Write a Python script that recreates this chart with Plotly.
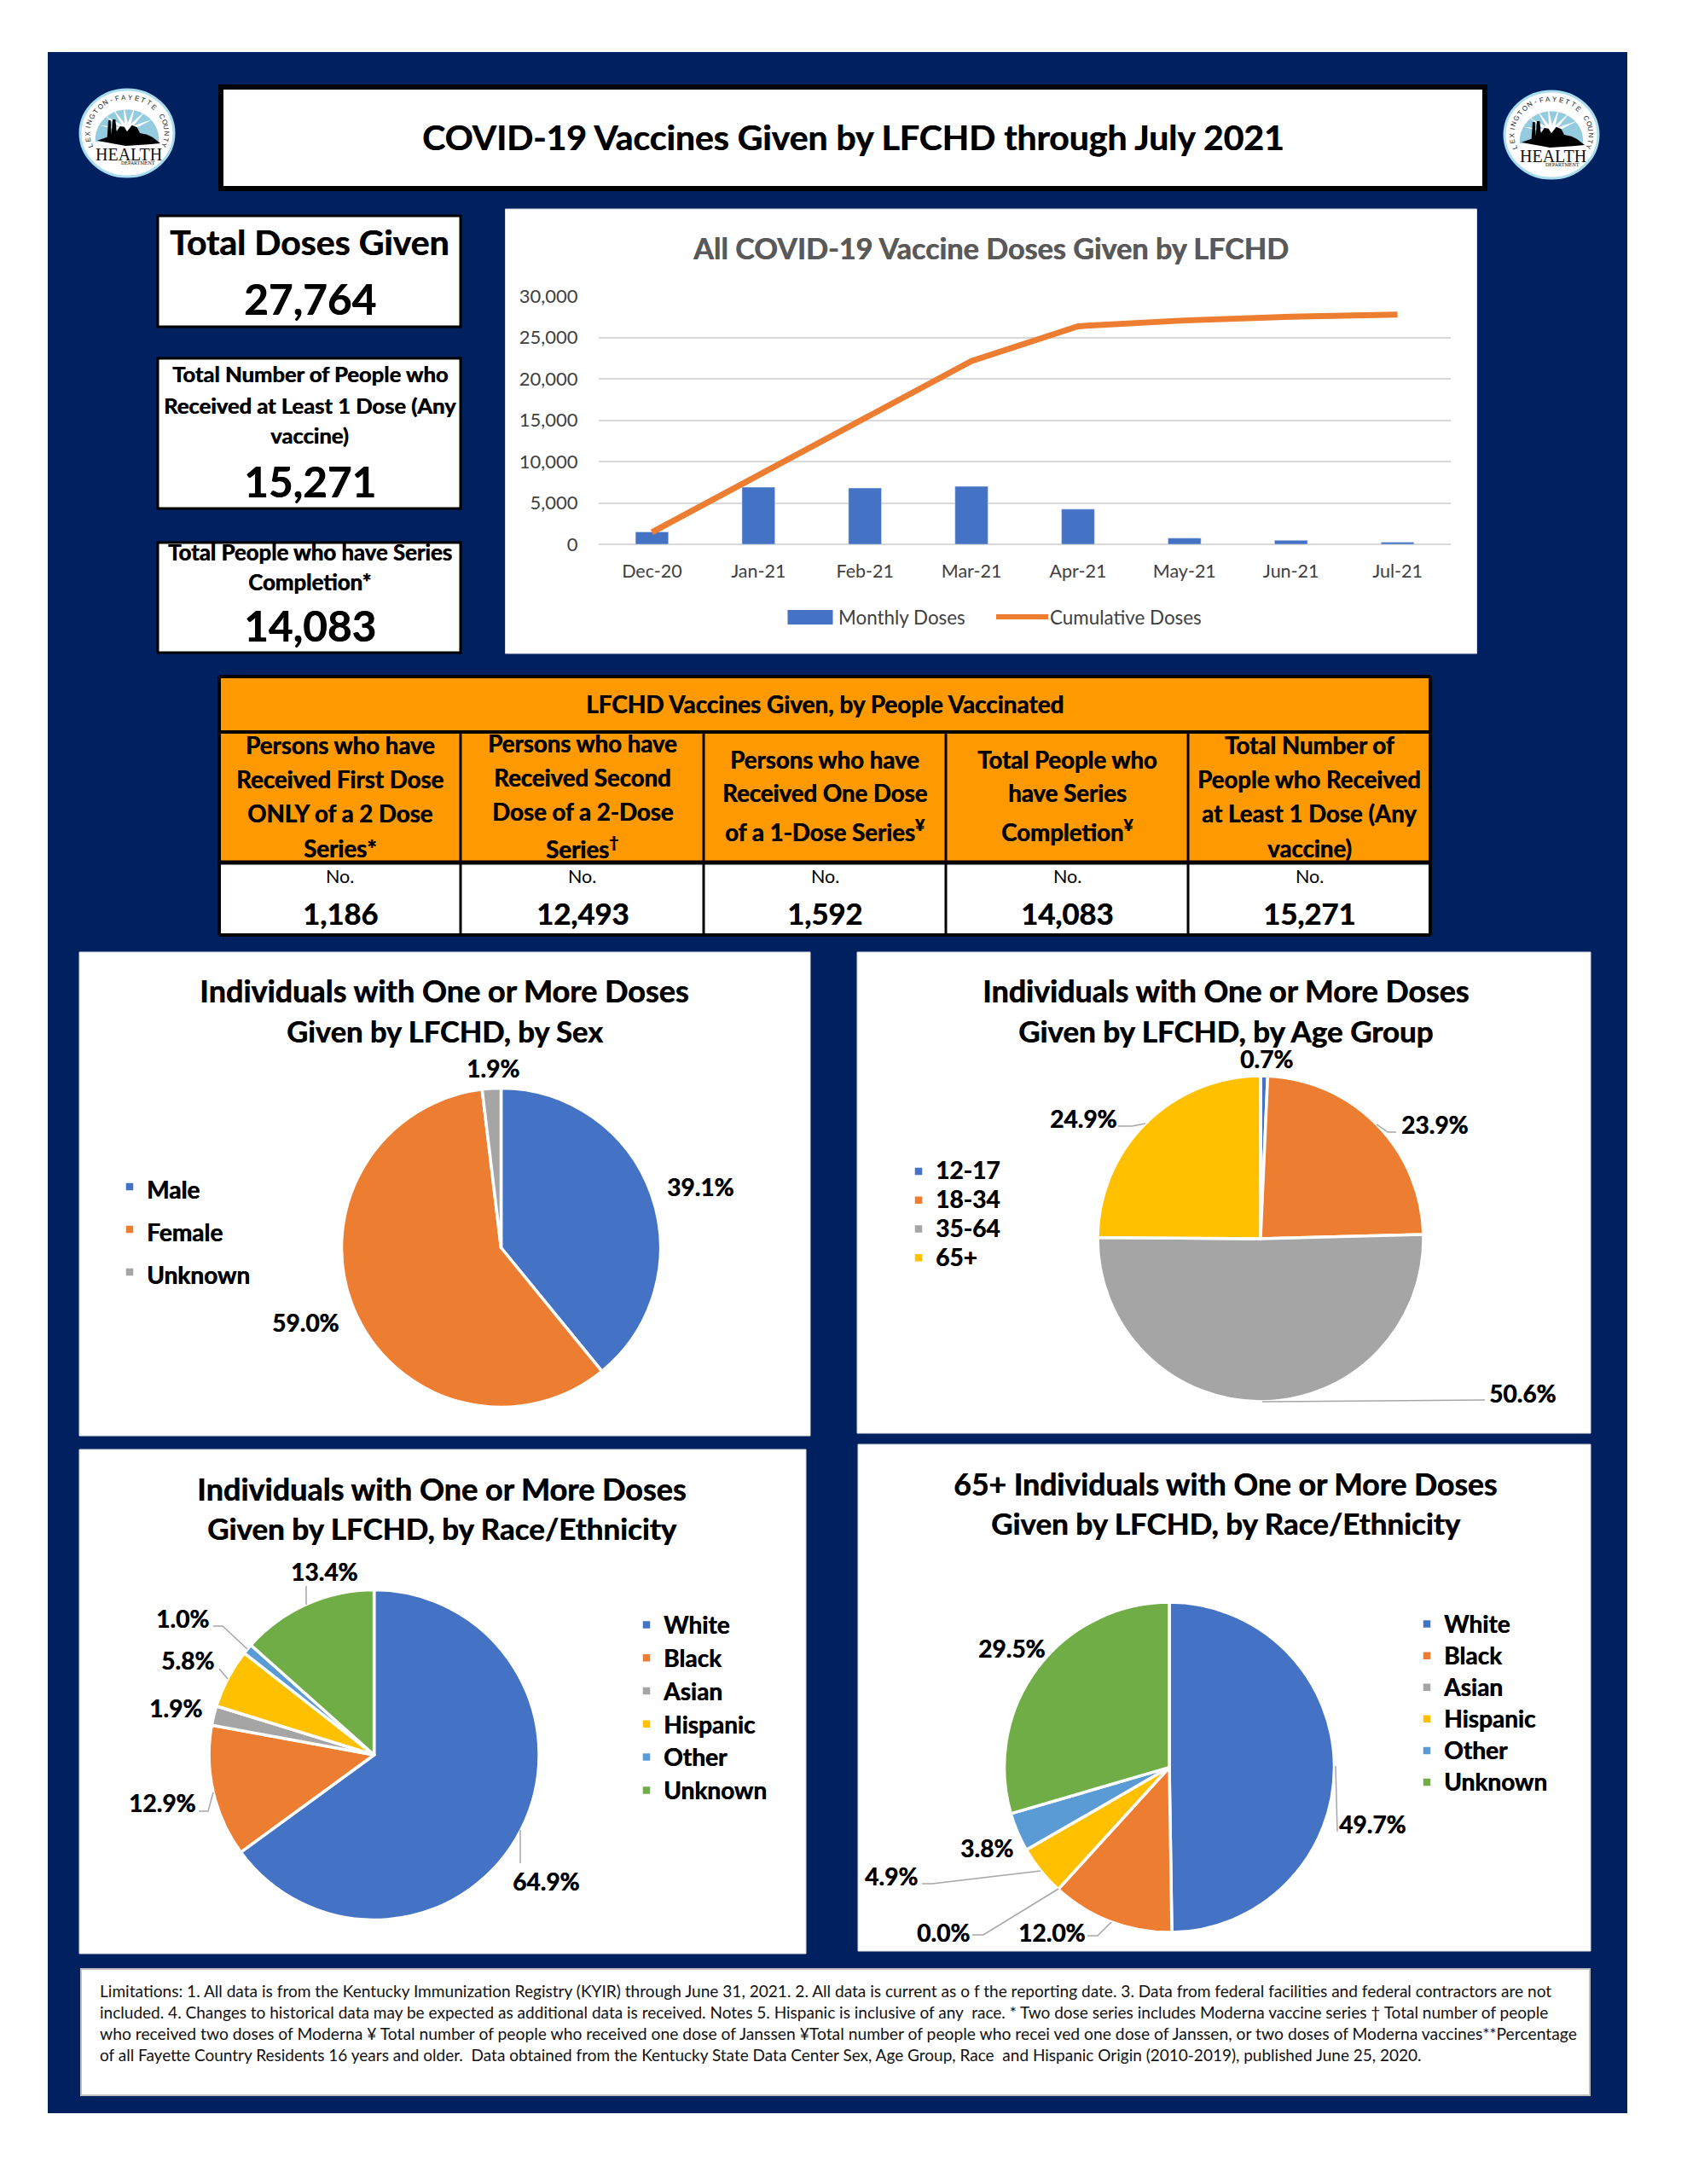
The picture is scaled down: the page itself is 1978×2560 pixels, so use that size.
import math
import plotly.graph_objects as go

W, H = 1978, 2560
FONT = "Lato"
NAVY = "#002060"
ORANGE = "#FF9900"
GREY_LINE = "#A6A6A6"

MONTHS = ["Dec-20", "Jan-21", "Feb-21", "Mar-21", "Apr-21", "May-21", "Jun-21", "Jul-21"]
MONTHLY_DOSES = [1500, 6900, 6800, 7000, 4250, 750, 480, 250]
CUMULATIVE_DOSES = [1450, 8350, 15150, 22150, 26350, 27050, 27500, 27764]
Y_TICKS = [0, 5000, 10000, 15000, 20000, 25000, 30000]

SEX_LABELS = ["Male", "Female", "Unknown"]
SEX_VALUES = [39.1, 59.0, 1.9]
AGE_LABELS = ["12-17", "18-34", "35-64", "65+"]
AGE_VALUES = [0.7, 23.9, 50.6, 24.9]
RACE_LABELS = ["White", "Black", "Asian", "Hispanic", "Other", "Unknown"]
RACE_VALUES = [64.9, 12.9, 1.9, 5.8, 1.0, 13.4]
RACE65_VALUES = [49.7, 12.0, 0.0, 4.9, 3.8, 29.5]
SLICE_COLORS = ["#4472C4", "#ED7D31", "#A5A5A5", "#FFC000", "#5B9BD5", "#70AD47"]
AGE_COLORS = ["#4472C4", "#ED7D31", "#A5A5A5", "#FFC000"]

TABLE_TITLE = "LFCHD Vaccines Given, by People Vaccinated"
TABLE_HEADERS = [
    ["Persons who have", "Received First Dose", "ONLY of a 2 Dose", "Series*"],
    ["Persons who have", "Received Second", "Dose of a 2-Dose", "Series<sup>†</sup>"],
    ["Persons who have", "Received One Dose", "of a 1-Dose Series<sup>¥</sup>"],
    ["Total People who", "have Series", "Completion<sup>¥</sup>"],
    ["Total Number of", "People who Received", "at Least 1 Dose (Any", "vaccine)"],
]
TABLE_VALUES = ["1,186", "12,493", "1,592", "14,083", "15,271"]

FOOTNOTE = [
    "Limitations: 1. All data is from the Kentucky Immunization Registry (KYIR) through June 31, 2021. 2. All data is current as o f the reporting date. 3. Data from federal facilities and federal contractors are not",
    "included. 4. Changes to historical data may be expected as additional data is received. Notes 5. Hispanic is inclusive of any  race. * Two dose series includes Moderna vaccine series † Total number of people",
    "who received two doses of Moderna ¥ Total number of people who received one dose of Janssen ¥Total number of people who recei ved one dose of Janssen, or two doses of Moderna vaccines**Percentage",
    "of all Fayette Country Residents 16 years and older.  Data obtained from the Kentucky State Data Center Sex, Age Group, Race  and Hispanic Origin (2010-2019), published June 25, 2020.",
]
FOOTNOTE_SIZES = [19.1, 19.05, 19.3, 19.0]

shapes, annos = [], []


def fx(x):
    return x / W


def fy(y):
    return 1 - y / H


def rect(x0, y0, x1, y1, fill, line=None, lw=0, layer="below"):
    shapes.append(dict(type="rect", xref="paper", yref="paper", x0=fx(x0), x1=fx(x1), y0=fy(y1), y1=fy(y0),
                       fillcolor=fill, line=dict(color=line or fill, width=lw), layer=layer))


def path(points, fill=None, line=None, lw=0, layer="above", close=False):
    d = "M" + " L".join(f"{fx(x):.5f},{fy(y):.5f}" for x, y in points) + (" Z" if close else "")
    s = dict(type="path", xref="paper", yref="paper", path=d, layer=layer, line=dict(color=line or "rgba(0,0,0,0)", width=lw))
    if fill:
        s["fillcolor"] = fill
    shapes.append(s)


def ellipse(cx, cy, rx, ry, fill, line=None, lw=0, layer="above"):
    shapes.append(dict(type="circle", xref="paper", yref="paper", x0=fx(cx - rx), x1=fx(cx + rx), y0=fy(cy + ry), y1=fy(cy - ry),
                       fillcolor=fill, line=dict(color=line or fill, width=lw), layer=layer))


def text(x, y, s, size, bold=True, color="#000000", anchor="center", family=FONT, angle=0):
    font = dict(family=family, size=size, color=color)
    if bold:
        font["shadow"] = f"0.6px 0 0 {color}"
    annos.append(dict(xref="paper", yref="paper", x=fx(x), y=fy(y), text=f"<b>{s}</b>" if bold else s, showarrow=False,
                      xanchor=anchor, yanchor="middle", textangle=angle, font=font))


def logo(cx, cy):
    k = 1 / 3
    def P(pts):
        return [(cx + (a - 205) * k, cy + (b - 200) * k) for a, b in pts]
    ellipse(cx, cy, 55, 51, "#FFFFFF", "#A9DDEE", 3)
    sky = [(205 + 112 * math.cos(math.radians(t)), 222 - 105 * math.sin(math.radians(t))) for t in range(-5, 190, 10)]
    path(P(sky), fill="#94CBDF", close=True)
    for t in range(25, 170, 24):
        a = math.radians(t)
        tip = (205 + 100 * math.cos(a), 190 - 92 * math.sin(a))
        n = (math.sin(a) * 8, math.cos(a) * 8)
        path(P([(205 + n[0], 190 + n[1]), tip, (205 - n[0], 190 - n[1])]), fill="#FFFFFF", close=True)
    skyline = [(100, 226), (135, 214), (139, 155), (147, 155), (150, 205), (154, 152), (164, 152), (168, 195), (180, 176),
               (195, 178), (205, 195), (222, 172), (240, 180), (250, 200), (275, 205), (295, 215), (322, 236), (280, 240),
               (200, 245), (130, 232)]
    path(P(skyline), fill="#000000", close=True)
    text(cx + 2, cy + 25, "HEALTH", 20, bold=False, color="#111111", family="Liberation Serif")
    text(cx + 13, cy + 35, "DEPARTMENT", 6, bold=False, color="#111111", family="Liberation Serif")
    ring = "LEXINGTON-FAYETTE COUNTY"
    n = len(ring)
    for i, ch in enumerate(ring):
        if ch == " ":
            continue
        t = 200 - 220 * i / (n - 1)
        a = math.radians(t)
        text(cx + 46 * math.cos(a), cy - 42 * math.sin(a), ch, 8, bold=False, color="#222222",
             family="Liberation Sans", angle=90 - t)


# page background
rect(56, 61, 1908, 2477, NAVY)

# headline
rect(259, 102, 1741, 221, "#FFFFFF", "#000000", 6)
text(1000, 161, "COVID-19 Vaccines Given by LFCHD through July 2021", 40.9)
logo(149, 156)
logo(1819, 158)

# stat boxes
rect(185, 253, 540, 383, "#FFFFFF", "#000000", 3)
text(363, 283, "Total Doses Given", 41)
text(363, 350, "27,764", 49.5)
rect(185, 420, 540, 596, "#FFFFFF", "#000000", 3)
for y, s in zip([438, 475, 510], ["Total Number of People who", "Received at Least 1 Dose (Any", "vaccine)"]):
    text(363, y, s, 25.6)
text(363, 564, "15,271", 49.5)
rect(185, 636, 540, 765, "#FFFFFF", "#000000", 3)
for y, s in zip([647, 682], ["Total People who have Series", "Completion*"]):
    text(363, y, s, 25.8)
text(363, 733, "14,083", 49.5)

# panels
rect(592.5, 245, 1731.5, 766, "#FFFFFF", "#D9D9D9", 1)
rect(93, 1116, 950, 1683, "#FFFFFF", "#D9D9D9", 1)
rect(1005, 1116, 1865, 1680, "#FFFFFF", "#D9D9D9", 1)
rect(93, 1699, 945, 2290, "#FFFFFF", "#D9D9D9", 1)
rect(1006, 1693, 1865, 2287, "#FFFFFF", "#D9D9D9", 1)
rect(95, 2308, 1864, 2456, "#FFFFFF", "#BFBFBF", 2)

# combo chart text and legend
text(1161, 291, "All COVID-19 Vaccine Doses Given by LFCHD", 34.2, color="#595959")
rect(923.5, 715, 976.5, 732, "#4472C4", layer="above")
text(981, 723, "Monthly Doses", 22.4, bold=False, color="#404040", anchor="left")
path([(1168, 723), (1229, 723)], line="#ED7D31", lw=6)
text(1229, 723, "Cumulative Doses", 22.4, bold=False, color="#404040", anchor="left")

# vaccination table
COLS = [257, 540, 825, 1109, 1393, 1677]
rect(257, 793, 1677, 1011, ORANGE)
rect(257, 1011, 1677, 1096, "#FFFFFF")
for x in COLS:
    path([(x, 858 if x not in (257, 1677) else 793), (x, 1096)], line="#000000", lw=3 if x not in (257, 1677) else 4)
for y, lw in [(793, 4), (858, 4), (1011, 5), (1096, 4)]:
    path([(257, y), (1677, y)], line="#000000", lw=lw)
text(967, 825, TABLE_TITLE, 27.9)
HEAD_Y = [[873, 913, 953, 994], [871, 911, 951, 993], [890, 929, 973], [890, 929, 973], [873, 913, 953, 994]]
for i, lines in enumerate(TABLE_HEADERS):
    cx = (COLS[i] + COLS[i + 1]) / 2
    for y, s in zip(HEAD_Y[i], lines):
        text(cx, y, s, 27.6)
    text(cx, 1027, "No.", 21.5, bold=False)
    text(cx, 1070, TABLE_VALUES[i], 34.6)

# pie titles
for (x, y, s, z) in [
    (521, 1161, "Individuals with One or More Doses", 36), (521, 1208, "Given by LFCHD, by Sex", 34.5),
    (1437, 1161, "Individuals with One or More Doses", 35.8), (1437, 1208, "Given by LFCHD, by Age Group", 35),
    (518, 1745, "Individuals with One or More Doses", 36), (518, 1791, "Given by LFCHD, by Race/Ethnicity", 35),
    (1436, 1739, "65+ Individuals with One or More Doses", 35.6), (1437, 1785, "Given by LFCHD, by Race/Ethnicity", 35),
]:
    text(x, y, s, z)

# pie value labels
def labels(values, spots):
    for v, (x, y) in zip(values, spots):
        text(x, y, f"{v:.1f}%", 28)


labels(SEX_VALUES, [(821, 1391), (358, 1550), (578, 1252)])
labels(AGE_VALUES, [(1485, 1241), (1682, 1318), (1785, 1633), (1270, 1311)])
labels(RACE_VALUES, [(640, 2205), (190, 2113), (206, 2002), (220, 1946), (214, 1897), (380, 1842)])
labels(RACE65_VALUES, [(1609, 2138), (1233, 2265), (1106, 2265), (1045, 2199), (1157, 2166), (1186, 1932)])

# leader lines
for pts in [
    [(1311, 1320), (1327, 1320), (1343, 1317)],
    [(1637, 1327), (1627, 1327), (1614, 1318)],
    [(1741, 1641), (1480, 1643)],
    [(359, 1859), (359, 1881)],
    [(250, 1906), (261, 1906), (290, 1933)],
    [(257, 1956), (267, 1968)],
    [(233, 2123), (244, 2123), (250, 2101)],
    [(610, 2184), (610, 2145)],
    [(1566, 2070), (1568, 2147)],
    [(1275, 2269), (1287, 2269), (1303, 2253)],
    [(1140, 2268), (1153, 2268), (1241, 2214)],
    [(1081, 2208), (1093, 2208), (1220, 2193)],
]:
    path(pts, line=GREY_LINE, lw=1.5)

# footnote
for y, s, z in zip([2333, 2358, 2383, 2408], FOOTNOTE, FOOTNOTE_SIZES):
    text(115, y, s, z, bold=False, color="#111111", anchor="left")

fig = go.Figure()
fig.add_bar(x=MONTHS, y=MONTHLY_DOSES, name="Monthly Doses", marker_color="#4472C4", showlegend=False)
fig.add_scatter(x=MONTHS, y=CUMULATIVE_DOSES, name="Cumulative Doses", mode="lines",
                line=dict(color="#ED7D31", width=7, shape="linear"), showlegend=False)


def add_pie(labels_, values, colors, cx, cy, r, legend):
    fig.add_pie(labels=labels_, values=values, sort=False, direction="clockwise", rotation=0,
                marker=dict(colors=colors, line=dict(color="#FFFFFF", width=3.5)), textinfo="none", hoverinfo="label+percent",
                domain=dict(x=[fx(cx - r), fx(cx + r)], y=[fy(cy + r), fy(cy - r)]), legend=legend)


def span(names, size):
    # the tiny size differences keep each pie's legend entries separate
    return [f'<span style="font-size:{size}px">{n}</span>' for n in names]


add_pie(span(SEX_LABELS, 28), SEX_VALUES, SLICE_COLORS[:3], 587.5, 1462.5, 187, "legend")
add_pie(span(AGE_LABELS, 28.01), AGE_VALUES, AGE_COLORS, 1478, 1452, 191, "legend2")
add_pie(span(RACE_LABELS, 28.02), RACE_VALUES, SLICE_COLORS, 438.6, 2057, 193.5, "legend3")
add_pie(span(RACE_LABELS, 28.03), RACE65_VALUES, SLICE_COLORS, 1371, 2071.6, 193.5, "legend4")


def legend_at(x, y, spacing):
    return dict(x=fx(x), y=fy(y), xanchor="left", yanchor="top", bgcolor="rgba(0,0,0,0)", borderwidth=0,
                font=dict(family=FONT, weight=700, color="#000000", size=(spacing - 3) / 1.3, shadow="0.6px 0 0 #000000"),
                traceorder="normal", itemclick=False, itemdoubleclick=False)


fig.update_layout(
    width=W, height=H, autosize=False, margin=dict(l=0, r=0, t=0, b=0, autoexpand=False),
    paper_bgcolor="#FFFFFF", plot_bgcolor="rgba(0,0,0,0)", showlegend=True, bargap=0.69,
    shapes=shapes, annotations=annos,
    xaxis=dict(domain=[fx(702), fx(1701)], anchor="y", type="category", showgrid=False, showline=False,
               ticks="outside", ticklen=12, tickcolor="rgba(0,0,0,0)", zeroline=False,
               tickfont=dict(family=FONT, size=21.5, color="#404040")),
    yaxis=dict(domain=[fy(638), fy(347)], anchor="x", range=[0, 30000], tickvals=Y_TICKS, tickformat=",",
               gridcolor="#D9D9D9", gridwidth=2, zeroline=True, zerolinecolor="#D9D9D9", zerolinewidth=2, showline=False,
               ticks="outside", ticklen=19, tickcolor="rgba(0,0,0,0)",
               tickfont=dict(family=FONT, size=22, color="#404040")),
    legend=legend_at(132, 1361, 50),
    legend2=legend_at(1057, 1351, 33.8),
    legend3=legend_at(738, 1880, 38.8),
    legend4=legend_at(1653, 1880, 37.1),
)

fig.write_html("out.html", config={"displayModeBar": False},
               post_script="document.body.style.margin='0';document.body.style.background='#fff';")
